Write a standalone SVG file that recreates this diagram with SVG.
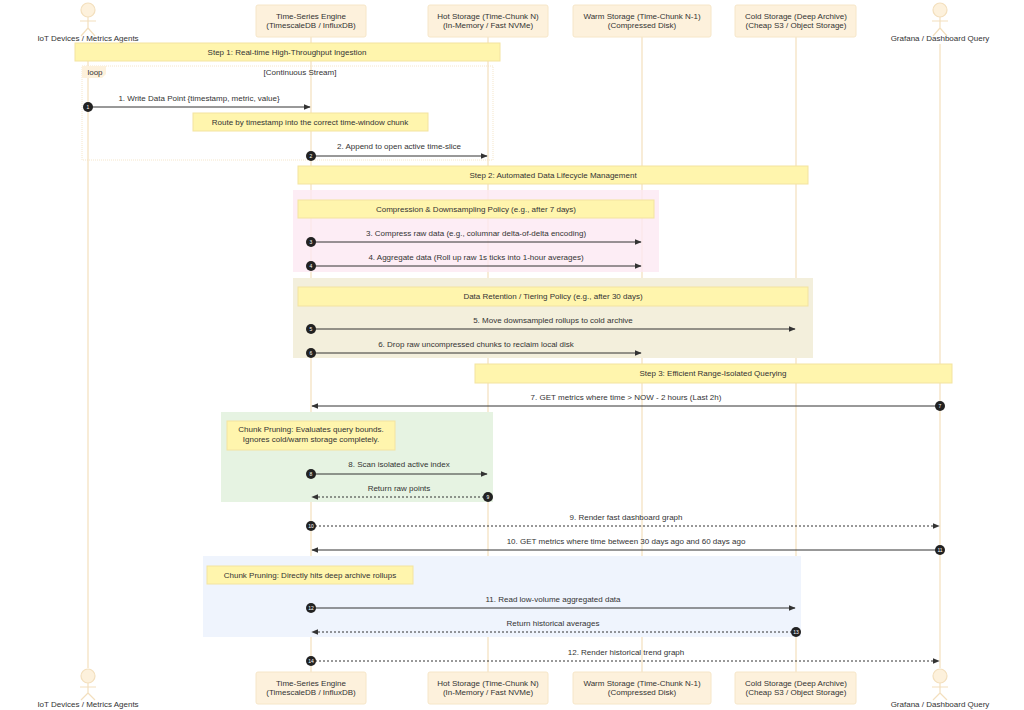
<svg xmlns="http://www.w3.org/2000/svg" width="1024" height="710" viewBox="0 0 1024 710">
<defs>
<marker id="ah" viewBox="0 0 10 10" refX="9" refY="5" markerWidth="7" markerHeight="7" orient="auto-start-reverse"><path d="M0,1L10,5L0,9z" fill="#333"/></marker>
</defs>
<style>
text{font-family:"Liberation Sans",Arial,sans-serif;font-size:8px;fill:#333;text-anchor:middle}
.box{fill:#fdf1dc;stroke:#f6e6c8;stroke-width:1}
.life{stroke:#f3dfbd;stroke-width:1.2}
.actor{fill:#fdf1dc;stroke:#f3dfbd;stroke-width:1.2}
.note{fill:#fff5ad;stroke:#f3e3a0;stroke-width:1}
.msg{stroke:#333;stroke-width:1;fill:none;marker-end:url(#ah)}
.dash{stroke-dasharray:2,2}
.num{fill:#222}
.numt{fill:#fff;font-size:5px}
</style>
<g id="lifelines">
<line class="life" x1="88" y1="44" x2="88" y2="668"/>
<line class="life" x1="311" y1="37" x2="311" y2="672"/>
<line class="life" x1="488" y1="37" x2="488" y2="672"/>
<line class="life" x1="642" y1="37" x2="642" y2="672"/>
<line class="life" x1="796" y1="37" x2="796" y2="672"/>
<line class="life" x1="940" y1="44" x2="940" y2="668"/>
</g>
<g id="regions">
<rect x="82" y="66" width="411" height="94" fill="none" stroke="#f3dfbd" stroke-width="0.8" stroke-dasharray="1,1"/>
<path d="M82,66H106V74L102,78H82Z" fill="#fdf1dc"/>
<text x="95" y="75">loop</text>
<text x="300" y="75">[Continuous Stream]</text>
<rect x="293" y="190" width="366" height="82" fill="#fce8f3" opacity="0.8"/>
<rect x="293" y="278" width="520" height="80" fill="#f3efdc"/>
<rect x="221" y="412" width="272" height="90" fill="#e6f3e2"/>
<rect x="203" y="556" width="598" height="81" fill="#eff4fd"/>
</g>
<g id="actor-iot"><circle class="actor" cx="88" cy="10" r="7"/><path class="life" d="M88,17V28M80,21H96M88,28L81,36M88,28L95,36" fill="none"/><text x="88" y="41">IoT Devices / Metrics Agents</text></g>
<g id="actor-iot-bottom"><circle class="actor" cx="88" cy="676" r="7"/><path class="life" d="M88,683V693M80,687H96M88,693L81,700M88,693L95,700" fill="none"/><text x="88" y="707">IoT Devices / Metrics Agents</text></g>
<g id="actor-grafana"><circle class="actor" cx="940" cy="10" r="7"/><path class="life" d="M940,17V28M932,21H948M940,28L933,36M940,28L947,36" fill="none"/><text x="940" y="41">Grafana / Dashboard Query</text></g>
<g id="actor-grafana-bottom"><circle class="actor" cx="940" cy="676" r="7"/><path class="life" d="M940,683V693M932,687H948M940,693L933,700M940,693L947,700" fill="none"/><text x="940" y="707">Grafana / Dashboard Query</text></g>
<g id="engine"><rect class="box" x="256" y="5" width="110" height="32" rx="2"/><text x="311" y="19">Time-Series Engine</text><text x="311" y="28">(TimescaleDB / InfluxDB)</text></g>
<g id="hot"><rect class="box" x="428" y="5" width="120" height="32" rx="2"/><text x="488" y="19">Hot Storage (Time-Chunk N)</text><text x="488" y="28">(In-Memory / Fast NVMe)</text></g>
<g id="warm"><rect class="box" x="573" y="5" width="138" height="32" rx="2"/><text x="642" y="19">Warm Storage (Time-Chunk N-1)</text><text x="642" y="28">(Compressed Disk)</text></g>
<g id="cold"><rect class="box" x="735" y="5" width="121" height="32" rx="2"/><text x="796" y="19">Cold Storage (Deep Archive)</text><text x="796" y="28">(Cheap S3 / Object Storage)</text></g>
<g id="engine-bottom"><rect class="box" x="256" y="672" width="110" height="32" rx="2"/><text x="311" y="686">Time-Series Engine</text><text x="311" y="695">(TimescaleDB / InfluxDB)</text></g>
<g id="hot-bottom"><rect class="box" x="428" y="672" width="120" height="32" rx="2"/><text x="488" y="686">Hot Storage (Time-Chunk N)</text><text x="488" y="695">(In-Memory / Fast NVMe)</text></g>
<g id="warm-bottom"><rect class="box" x="573" y="672" width="138" height="32" rx="2"/><text x="642" y="686">Warm Storage (Time-Chunk N-1)</text><text x="642" y="695">(Compressed Disk)</text></g>
<g id="cold-bottom"><rect class="box" x="735" y="672" width="121" height="32" rx="2"/><text x="796" y="686">Cold Storage (Deep Archive)</text><text x="796" y="695">(Cheap S3 / Object Storage)</text></g>
<g id="notes">
<rect class="note" x="75" y="43" width="425" height="18"/><text x="287" y="55">Step 1: Real-time High-Throughput Ingestion</text>
<rect class="note" x="193" y="113" width="235" height="18"/><text x="310" y="125">Route by timestamp into the correct time-window chunk</text>
<rect class="note" x="298" y="166" width="510" height="18"/><text x="553" y="178">Step 2: Automated Data Lifecycle Management</text>
<rect class="note" x="298" y="200" width="356" height="18"/><text x="476" y="212">Compression &amp; Downsampling Policy (e.g., after 7 days)</text>
<rect class="note" x="298" y="287" width="510" height="19"/><text x="553" y="299">Data Retention / Tiering Policy (e.g., after 30 days)</text>
<rect class="note" x="475" y="364" width="477" height="19"/><text x="713" y="376">Step 3: Efficient Range-Isolated Querying</text>
<rect class="note" x="227" y="421" width="168" height="29"/><text x="311" y="432">Chunk Pruning: Evaluates query bounds.</text><text x="311" y="442">Ignores cold/warm storage completely.</text>
<rect class="note" x="207" y="566" width="206" height="18"/><text x="310" y="578">Chunk Pruning: Directly hits deep archive rollups</text>
</g>
<g id="connectors">
<line class="msg" x1="88" y1="107" x2="310" y2="107"/><text x="199" y="101">1. Write Data Point {timestamp, metric, value}</text>
<line class="msg" x1="311" y1="156" x2="487" y2="156"/><text x="399" y="149">2. Append to open active time-slice</text>
<line class="msg" x1="311" y1="242" x2="641" y2="242"/><text x="476" y="236">3. Compress raw data (e.g., columnar delta-of-delta encoding)</text>
<line class="msg" x1="311" y1="266" x2="641" y2="266"/><text x="476" y="260">4. Aggregate data (Roll up raw 1s ticks into 1-hour averages)</text>
<line class="msg" x1="311" y1="329" x2="795" y2="329"/><text x="553" y="323">5. Move downsampled rollups to cold archive</text>
<line class="msg" x1="311" y1="353" x2="641" y2="353"/><text x="476" y="347">6. Drop raw uncompressed chunks to reclaim local disk</text>
<line class="msg" x1="940" y1="406" x2="312" y2="406"/><text x="626" y="400">7. GET metrics where time &gt; NOW - 2 hours (Last 2h)</text>
<line class="msg" x1="311" y1="474" x2="487" y2="474"/><text x="399" y="467">8. Scan isolated active index</text>
<line class="msg dash" x1="488" y1="497" x2="312" y2="497"/><text x="399" y="491">Return raw points</text>
<line class="msg dash" x1="311" y1="526" x2="939" y2="526"/><text x="626" y="520">9. Render fast dashboard graph</text>
<line class="msg" x1="940" y1="550" x2="312" y2="550"/><text x="626" y="544">10. GET metrics where time between 30 days ago and 60 days ago</text>
<line class="msg" x1="311" y1="608" x2="795" y2="608"/><text x="553" y="602">11. Read low-volume aggregated data</text>
<line class="msg dash" x1="796" y1="632" x2="312" y2="632"/><text x="553" y="626">Return historical averages</text>
<line class="msg dash" x1="311" y1="661" x2="939" y2="661"/><text x="626" y="655">12. Render historical trend graph</text>
</g>
<g id="numbers">
<circle class="num" cx="88" cy="107" r="5"/><text class="numt" x="88" y="109">1</text>
<circle class="num" cx="311" cy="156" r="5"/><text class="numt" x="311" y="158">2</text>
<circle class="num" cx="311" cy="242" r="5"/><text class="numt" x="311" y="244">3</text>
<circle class="num" cx="311" cy="266" r="5"/><text class="numt" x="311" y="268">4</text>
<circle class="num" cx="311" cy="329" r="5"/><text class="numt" x="311" y="331">5</text>
<circle class="num" cx="311" cy="353" r="5"/><text class="numt" x="311" y="355">6</text>
<circle class="num" cx="940" cy="406" r="5"/><text class="numt" x="940" y="408">7</text>
<circle class="num" cx="311" cy="474" r="5"/><text class="numt" x="311" y="476">8</text>
<circle class="num" cx="488" cy="497" r="5"/><text class="numt" x="488" y="499">9</text>
<circle class="num" cx="311" cy="526" r="5"/><text class="numt" x="311" y="528">10</text>
<circle class="num" cx="940" cy="550" r="5"/><text class="numt" x="940" y="552">11</text>
<circle class="num" cx="311" cy="608" r="5"/><text class="numt" x="311" y="610">12</text>
<circle class="num" cx="796" cy="632" r="5"/><text class="numt" x="796" y="634">13</text>
<circle class="num" cx="311" cy="661" r="5"/><text class="numt" x="311" y="663">14</text>
</g>
</svg>
